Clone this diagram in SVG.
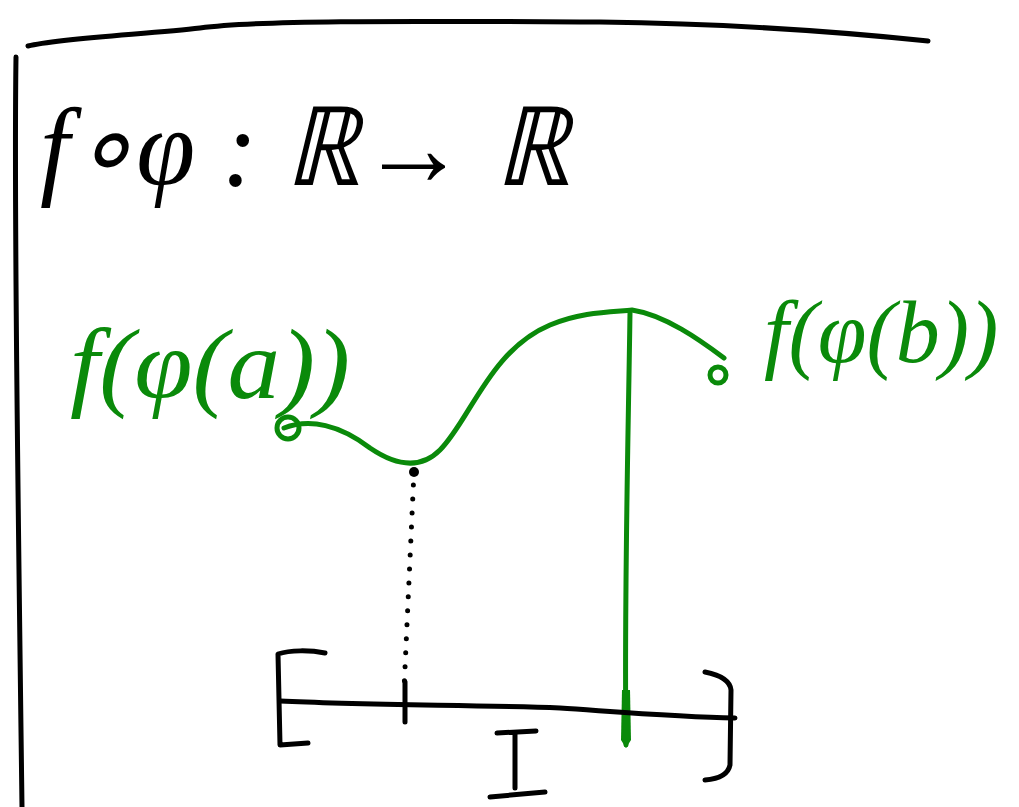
<svg xmlns="http://www.w3.org/2000/svg" width="1019" height="807" viewBox="0 0 1019 807">
<style>
.ink{fill:none;stroke:#000;stroke-width:5;stroke-linecap:round;stroke-linejoin:round}
.g{fill:none;stroke:#0a8a0a;stroke-width:5;stroke-linecap:round;stroke-linejoin:round}
.t{font-family:"Liberation Serif",serif;font-style:italic}
</style>
<rect width="1019" height="807" fill="#fff"/>
<g id="frame">
<path class="ink" d="M28,46 C60,38 150,34 200,28 C260,20 400,21 600,22 C760,24 880,36 928,41"/>
<path class="ink" d="M16,57 C14,200 18,500 22,807"/>
</g>
<g id="title">
<text class="t" x="40" y="185" font-size="110" textLength="530" lengthAdjust="spacingAndGlyphs" fill="#000">f∘φ : ℝ→ ℝ</text>
</g>
<g id="label-a">
<text class="t" x="70" y="398" font-size="100" textLength="280" lengthAdjust="spacingAndGlyphs" fill="#0a8a0a">f(φ(a))</text>
</g>
<g id="label-b">
<text class="t" x="764" y="362" font-size="88" fill="#0a8a0a">f(φ(b))</text>
</g>
<g id="curve">
<circle cx="288" cy="428" r="11" class="g"/>
<path class="g" d="M284,428 C310,418 340,425 370,448 C395,465 420,470 440,450 C470,420 490,350 550,325 C580,312 610,312 632,310 C665,315 700,340 724,358"/>
<circle cx="718" cy="375" r="8" class="g"/>
<path class="g" d="M630,313 C628,450 624,600 626,745"/>
<path d="M622,690 L630,690 L631,740 L626,748 L621,740 Z" fill="#0a8a0a"/>
</g>
<g id="connectors">
<path class="ink" d="M414,471 L404,690" stroke-width="6" stroke-dasharray="0 14"/>
<circle cx="414" cy="472" r="5" fill="#000"/>
</g>
<g id="interval">
<path class="ink" d="M280,701 C360,705 480,705 560,708 C620,712 680,717 735,718"/>
<path class="ink" d="M325,653 C310,650 290,650 278,654 L280,745 L308,743"/>
<path class="ink" d="M705,672 C720,675 730,680 731,690 L730,765 C728,775 718,779 705,780"/>
<path class="ink" d="M405,682 L405,722"/>
<path class="ink" d="M497,733 L536,731 M515,733 L515,788 M490,797 L545,792"/>
</g>
</svg>
